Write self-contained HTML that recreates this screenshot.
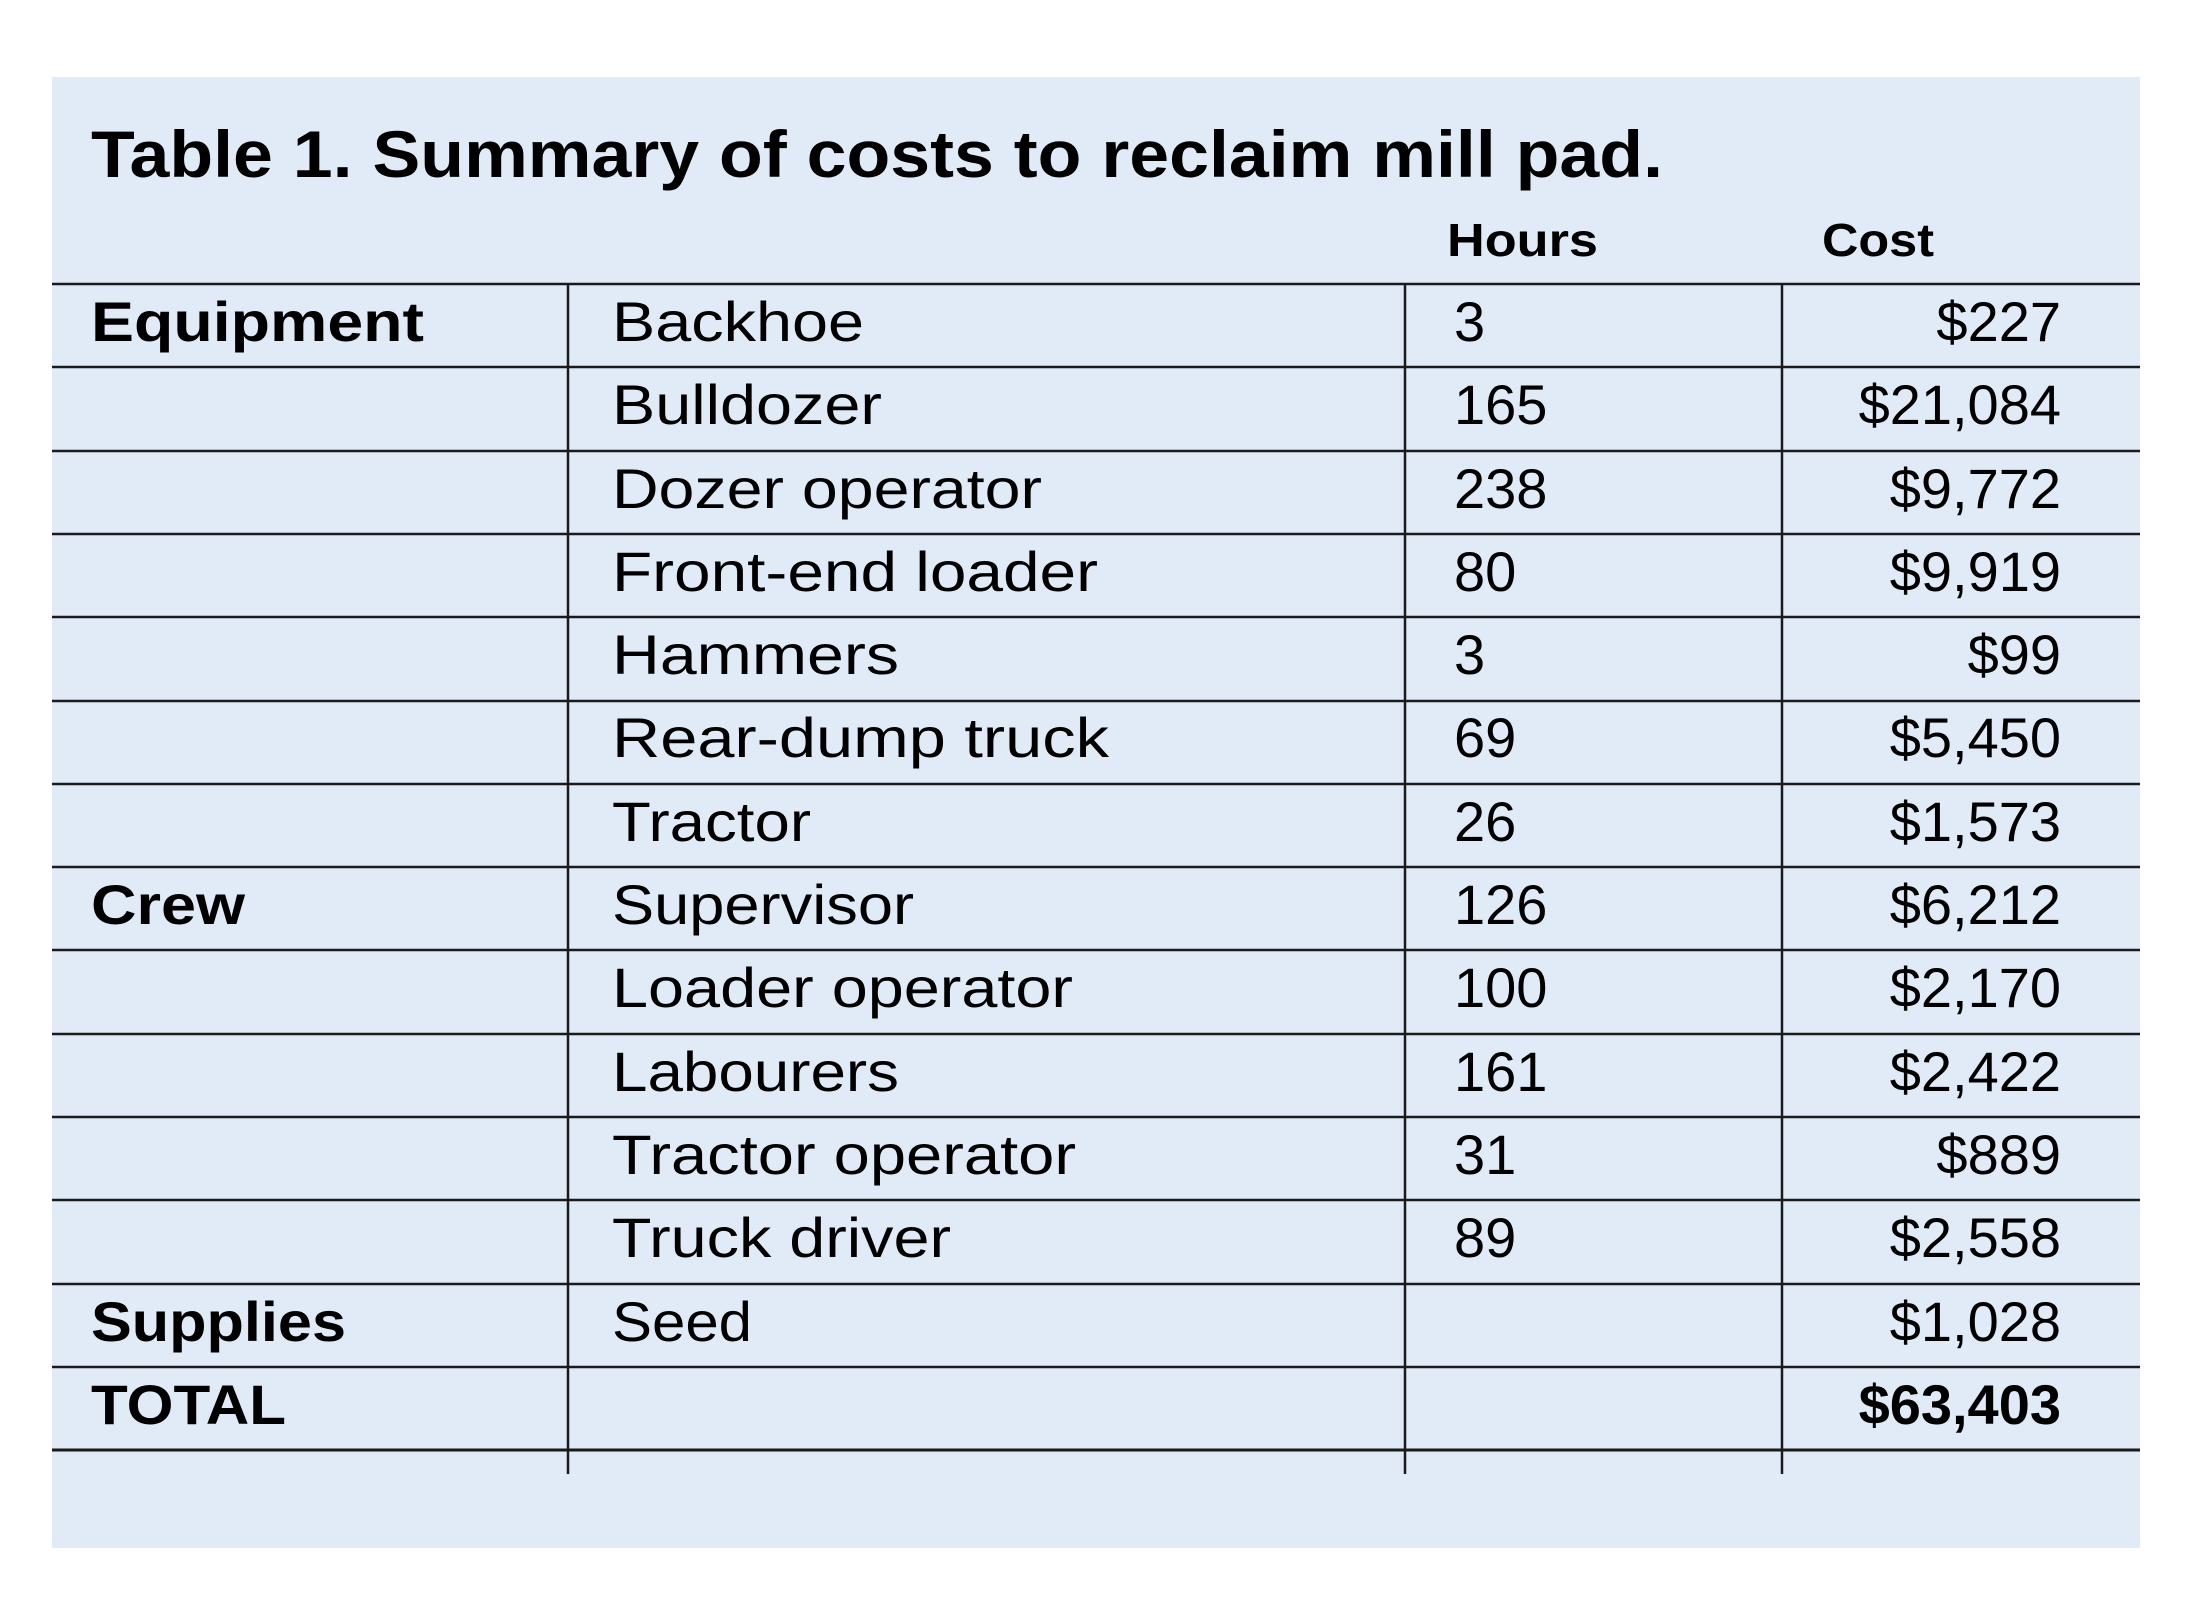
<!DOCTYPE html>
<html><head><meta charset="utf-8"><style>
html,body{margin:0;padding:0;background:#fff}
svg{display:block}
text{font-family:"Liberation Sans",sans-serif;fill:#000}
.b{font-weight:bold}
</style></head><body>
<svg width="2190" height="1599" viewBox="0 0 2190 1599">
<rect x="52" y="77" width="2088" height="1471" fill="#e1ebf7"/>
<text class="b" x="91" y="177" font-size="66" textLength="1572" lengthAdjust="spacingAndGlyphs">Table 1. Summary of costs to reclaim mill pad.</text>
<text class="b" x="1447" y="256" font-size="46" textLength="151" lengthAdjust="spacingAndGlyphs">Hours</text>
<text class="b" x="1822" y="256" font-size="46" textLength="112" lengthAdjust="spacingAndGlyphs">Cost</text>
<g stroke="#1a1a1a" stroke-width="2.5">
<line x1="52" y1="284" x2="2140" y2="284"/>
<line x1="52" y1="367" x2="2140" y2="367"/>
<line x1="52" y1="451" x2="2140" y2="451"/>
<line x1="52" y1="534" x2="2140" y2="534"/>
<line x1="52" y1="617" x2="2140" y2="617"/>
<line x1="52" y1="701" x2="2140" y2="701"/>
<line x1="52" y1="784" x2="2140" y2="784"/>
<line x1="52" y1="867" x2="2140" y2="867"/>
<line x1="52" y1="950" x2="2140" y2="950"/>
<line x1="52" y1="1034" x2="2140" y2="1034"/>
<line x1="52" y1="1117" x2="2140" y2="1117"/>
<line x1="52" y1="1200" x2="2140" y2="1200"/>
<line x1="52" y1="1284" x2="2140" y2="1284"/>
<line x1="52" y1="1367" x2="2140" y2="1367"/>
<line x1="52" y1="1450" x2="2140" y2="1450" stroke-width="3"/>
<line x1="568" y1="284" x2="568" y2="1474"/>
<line x1="1405" y1="284" x2="1405" y2="1474"/>
<line x1="1782" y1="284" x2="1782" y2="1474"/>
</g>
<g font-size="56" transform="translate(0,-3)">
<text class="b" x="91" y="344" textLength="333" lengthAdjust="spacingAndGlyphs">Equipment</text>
<text class="b" x="91" y="927" textLength="154" lengthAdjust="spacingAndGlyphs">Crew</text>
<text class="b" x="91" y="1344" textLength="255" lengthAdjust="spacingAndGlyphs">Supplies</text>
<text class="b" x="91" y="1427" textLength="195" lengthAdjust="spacingAndGlyphs">TOTAL</text>

<text x="612" y="344" textLength="252" lengthAdjust="spacingAndGlyphs">Backhoe</text>
<text x="612" y="427" textLength="270" lengthAdjust="spacingAndGlyphs">Bulldozer</text>
<text x="612" y="511" textLength="430" lengthAdjust="spacingAndGlyphs">Dozer operator</text>
<text x="612" y="594" textLength="486" lengthAdjust="spacingAndGlyphs">Front-end loader</text>
<text x="612" y="677" textLength="287" lengthAdjust="spacingAndGlyphs">Hammers</text>
<text x="612" y="760" textLength="497" lengthAdjust="spacingAndGlyphs">Rear-dump truck</text>
<text x="612" y="844" textLength="199" lengthAdjust="spacingAndGlyphs">Tractor</text>
<text x="612" y="927" textLength="302" lengthAdjust="spacingAndGlyphs">Supervisor</text>
<text x="612" y="1010" textLength="461" lengthAdjust="spacingAndGlyphs">Loader operator</text>
<text x="612" y="1094" textLength="287" lengthAdjust="spacingAndGlyphs">Labourers</text>
<text x="612" y="1177" textLength="464" lengthAdjust="spacingAndGlyphs">Tractor operator</text>
<text x="612" y="1260" textLength="339" lengthAdjust="spacingAndGlyphs">Truck driver</text>
<text x="612" y="1344" textLength="140" lengthAdjust="spacingAndGlyphs">Seed</text>

<text x="1454" y="344">3</text>
<text x="1454" y="427">165</text>
<text x="1454" y="511">238</text>
<text x="1454" y="594">80</text>
<text x="1454" y="677">3</text>
<text x="1454" y="760">69</text>
<text x="1454" y="844">26</text>
<text x="1454" y="927">126</text>
<text x="1454" y="1010">100</text>
<text x="1454" y="1094">161</text>
<text x="1454" y="1177">31</text>
<text x="1454" y="1260">89</text>

<g text-anchor="end">
<text x="2061" y="344">$227</text>
<text x="2061" y="427">$21,084</text>
<text x="2061" y="511">$9,772</text>
<text x="2061" y="594">$9,919</text>
<text x="2061" y="677">$99</text>
<text x="2061" y="760">$5,450</text>
<text x="2061" y="844">$1,573</text>
<text x="2061" y="927">$6,212</text>
<text x="2061" y="1010">$2,170</text>
<text x="2061" y="1094">$2,422</text>
<text x="2061" y="1177">$889</text>
<text x="2061" y="1260">$2,558</text>
<text x="2061" y="1344">$1,028</text>
<text class="b" x="2061" y="1427">$63,403</text>
</g>
</g>
</svg>
</body></html>
